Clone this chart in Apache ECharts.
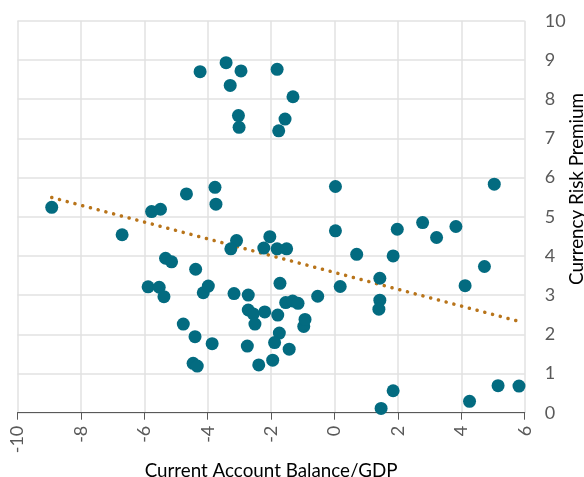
<!DOCTYPE html>
<html><head><meta charset="utf-8">
<script src="https://cdn.jsdelivr.net/npm/echarts@6/dist/echarts.min.js"></script>
<style>html,body{margin:0;padding:0;background:#fff}#c{width:584px;height:477px}</style>
</head><body><div id="c"></div>
<script>
var xVals = [-8.92,-6.70,-5.77,-5.49,-4.67,-3.77,-3.74,-5.33,-5.14,-4.38,-5.88,-5.53,-5.38,-4.77,-4.40,-4.46,-4.33,-4.14,-3.98,-3.86,
  -4.24,-3.42,-2.95,-3.29,-1.81,-1.31,-3.03,-3.01,-1.56,-1.76,-3.09,-3.27,-2.04,-2.23,-1.81,-1.51,-3.17,-2.72,-2.72,-2.56,
  -2.20,-2.51,-2.75,-2.39,-1.72,-1.79,-1.74,-1.89,-1.95,-1.43,-1.54,-1.32,-1.15,-0.97,-0.93,-0.53,0.03,0.03,0.18,0.70,
  1.98,2.78,3.22,3.83,1.85,4.73,4.12,1.43,1.43,1.40,1.85,1.47,4.26,5.16,5.82,5.04];
var yVals = [5.24,4.54,5.13,5.19,5.58,5.75,5.32,3.94,3.85,3.66,3.21,3.20,2.96,2.26,1.94,1.26,1.19,3.06,3.23,1.76,
  8.70,8.93,8.72,8.35,8.76,8.06,7.58,7.28,7.49,7.19,4.39,4.18,4.49,4.20,4.18,4.18,3.04,3.00,2.62,2.52,
  2.57,2.26,1.70,1.22,3.30,2.49,2.03,1.79,1.34,1.62,2.81,2.85,2.79,2.20,2.38,2.97,5.77,4.64,3.22,4.04,
  4.68,4.85,4.47,4.75,4.00,3.73,3.24,3.43,2.87,2.64,0.56,0.11,0.29,0.69,0.68,5.83];
var trendX = [-8.92, 5.82];
var trendY = [5.49, 2.33];
var xTicks = [-10,-8,-6,-4,-2,0,2,4,6];
var yTicks = [0,1,2,3,4,5,6,7,8,9,10];
var xTitle = 'Current Account Balance/GDP';
var yTitle = 'Currency Risk Premium';

var pts = xVals.map(function(x,i){return [x, yVals[i]];});
var trend = trendX.map(function(x,i){return [x, trendY[i]];});

var chart = echarts.init(document.getElementById('c'), null, {renderer:'canvas'});
chart.setOption({
  animation:false,
  grid:{left:17.5, right:59.3, top:20.7, bottom:64.3, containLabel:false, outerBoundsMode:'none'},
  graphic:[{type:'text', x:576.5, y:189, rotation:Math.PI/2, z:10,
    style:{text:yTitle, fontFamily:'Lato', fontSize:18.8, fill:'#000', align:'center', verticalAlign:'middle'}}],
  xAxis:{type:'value', min:xTicks[0], max:xTicks[xTicks.length-1], interval:2,
    name:xTitle, nameLocation:'middle', nameGap:47.5,
    nameTextStyle:{fontFamily:'Lato', fontSize:18.8, color:'#000'},
    axisLine:{show:true, onZero:false, lineStyle:{color:'#595959', width:1}},
    axisTick:{show:true, length:7, lineStyle:{color:'#595959'}},
    axisLabel:{rotate:90, margin:13, fontFamily:'Lato', fontSize:18, color:'#595959'},
    splitLine:{show:true, lineStyle:{color:'#e2e2e2', width:1.5}}
  },
  yAxis:{type:'value', position:'right', min:yTicks[0], max:yTicks[yTicks.length-1], interval:1,
    axisLine:{show:false}, axisTick:{show:false},
    axisLabel:{margin:20, fontFamily:'Lato', fontSize:18, color:'#595959'},
    splitLine:{show:true, lineStyle:{color:'#e2e2e2', width:1.5}}
  },
  series:[
    {type:'line', data:trend, symbol:'none', z:1,
      lineStyle:{color:'#b8741a', width:3.5, type:[0.1,7.9], cap:'round'}},
    {type:'scatter', data:pts, symbol:'circle', symbolSize:13, z:2,
      itemStyle:{color:'#036b80', opacity:1}}
  ]
});
</script></body></html>
